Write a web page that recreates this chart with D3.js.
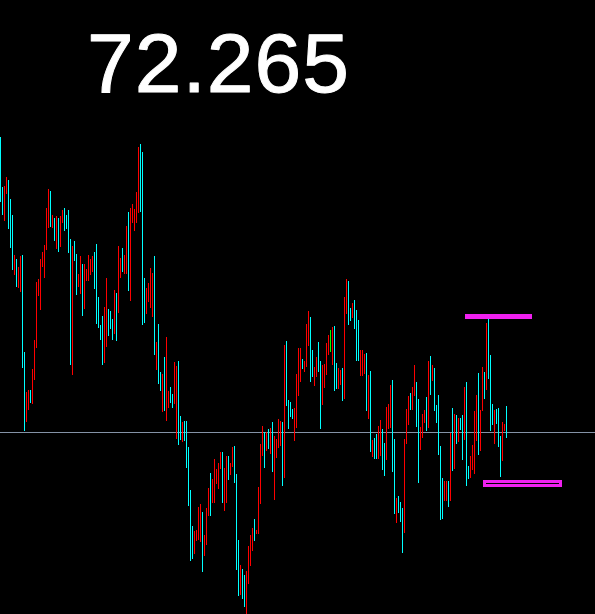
<!DOCTYPE html>
<html>
<head>
<meta charset="utf-8">
<script src="https://cdn.jsdelivr.net/npm/d3@7/dist/d3.min.js"></script>
<style>
  html, body { margin: 0; padding: 0; background: #000; }
  svg { display: block; }
</style>
</head>
<body>
<svg id="chart" width="595" height="614"></svg>
<script>
// ---- data ----
const lastPrice = 72.265;

const highs = [
72.560,72.510,72.511,72.520,72.517,72.498,72.482,72.442,72.438,72.430,
72.441,72.442,72.345,72.305,72.307,72.307,72.328,72.357,72.415,72.418,
72.438,72.445,72.452,72.489,72.508,72.506,72.482,72.479,72.481,72.479,
72.481,72.487,72.489,72.482,72.487,72.458,72.451,72.456,72.443,72.423,
72.441,72.433,72.433,72.428,72.442,72.438,72.441,72.445,72.453,72.400,
72.372,72.381,72.390,72.419,72.388,72.386,72.378,72.407,72.404,72.451,
72.439,72.449,72.442,72.471,72.485,72.489,72.493,72.488,72.505,72.550,
72.553,72.545,72.419,72.409,72.414,72.429,72.424,72.441,72.355,72.373,
72.325,72.323,72.340,72.360,72.306,72.310,72.303,72.335,72.331,72.336,
72.281,72.275,72.276,72.276,72.250,72.207,72.171,72.166,72.167,72.190,
72.193,72.185,72.162,72.189,72.209,72.224,72.218,72.238,72.228,72.234,
72.245,72.245,72.229,72.241,72.241,72.234,72.250,72.251,72.223,72.157,
72.132,72.128,72.122,72.126,72.151,72.162,72.169,72.178,72.167,72.210,
72.253,72.271,72.265,72.265,72.268,72.269,72.275,72.261,72.258,72.278,
72.276,72.275,72.352,72.356,72.297,72.295,72.288,72.289,72.323,72.349,
72.349,72.338,72.336,72.373,72.386,72.380,72.347,72.330,72.340,72.355,
72.336,72.332,72.333,72.354,72.362,72.367,72.370,72.371,72.334,72.329,
72.327,72.329,72.400,72.418,72.416,72.389,72.394,72.397,72.387,72.377,
72.347,72.347,72.343,72.344,72.322,72.326,72.257,72.259,72.263,72.271,
72.277,72.268,72.254,72.290,72.293,72.312,72.317,72.258,72.199,72.201,
72.195,72.189,72.258,72.288,72.301,72.304,72.310,72.332,72.315,72.298,
72.270,72.283,72.287,72.300,72.336,72.341,72.332,72.329,72.292,72.302,
72.251,72.219,72.216,72.216,72.216,72.264,72.289,72.283,72.282,72.279,
72.279,72.282,72.310,72.315,72.231,72.241,72.252,72.286,72.302,72.324,
72.287,72.330,72.325,72.374,72.378,72.342,72.293,72.287,72.288,72.289,
72.261,72.275,72.273,72.291
];

const lows = [
72.496,72.483,72.477,72.504,72.469,72.450,72.428,72.423,72.411,72.410,
72.406,72.330,72.267,72.276,72.288,72.295,72.294,72.318,72.350,72.402,
72.388,72.431,72.420,72.448,72.470,72.471,72.470,72.457,72.449,72.446,
72.451,72.475,72.467,72.469,72.445,72.333,72.323,72.437,72.403,72.411,
72.404,72.382,72.389,72.417,72.417,72.423,72.426,72.409,72.374,72.370,
72.358,72.333,72.335,72.351,72.362,72.369,72.358,72.364,72.357,72.385,
72.420,72.426,72.424,72.424,72.407,72.397,72.475,72.467,72.475,72.485,
72.486,72.373,72.375,72.384,72.396,72.390,72.381,72.343,72.328,72.314,
72.307,72.286,72.287,72.277,72.290,72.295,72.290,72.294,72.259,72.253,
72.258,72.256,72.257,72.230,72.192,72.137,72.139,72.144,72.157,72.158,
72.156,72.126,72.142,72.153,72.182,72.182,72.195,72.195,72.214,72.209,
72.229,72.195,72.187,72.195,72.218,72.223,72.231,72.215,72.128,72.102,
72.103,72.099,72.091,72.083,72.114,72.132,72.147,72.157,72.164,72.164,
72.194,72.242,72.230,72.247,72.249,72.244,72.226,72.198,72.240,72.250,
72.252,72.212,72.220,72.292,72.269,72.281,72.279,72.257,72.270,72.302,
72.316,72.329,72.326,72.331,72.352,72.316,72.321,72.312,72.321,72.326,
72.269,72.293,72.310,72.323,72.343,72.346,72.333,72.307,72.309,72.309,
72.313,72.297,72.299,72.384,72.373,72.377,72.380,72.369,72.337,72.337,
72.322,72.322,72.324,72.287,72.279,72.246,72.241,72.239,72.239,72.239,
72.242,72.228,72.222,72.238,72.269,72.270,72.226,72.184,72.175,72.185,
72.176,72.145,72.165,72.254,72.273,72.288,72.288,72.302,72.271,72.215,
72.248,72.260,72.275,72.267,72.270,72.303,72.317,72.287,72.275,72.243,
72.178,72.179,72.197,72.197,72.191,72.197,72.227,72.229,72.254,72.256,
72.268,72.238,72.258,72.212,72.219,72.220,72.228,72.224,72.257,72.243,
72.247,72.287,72.299,72.308,72.319,72.267,72.273,72.254,72.274,72.251,
72.221,72.237,72.267,72.260
];

// 1 = up bar, -1 = down bar, 0 = unchanged
const direction = [
1,1,-1,-1,1,1,1,-1,1,-1,
-1,1,1,-1,-1,1,-1,-1,-1,-1,
-1,-1,-1,-1,-1,1,-1,1,-1,1,
-1,-1,1,1,1,1,-1,1,1,-1,
-1,1,-1,-1,-1,-1,-1,1,1,1,
1,1,-1,-1,1,1,1,-1,1,-1,
-1,1,-1,-1,1,-1,-1,-1,-1,-1,
1,1,1,-1,-1,-1,-1,1,-1,1,
1,-1,1,-1,-1,1,1,-1,-1,1,
1,-1,1,1,1,1,1,-1,-1,-1,
-1,1,-1,-1,-1,1,-1,-1,-1,-1,
-1,1,-1,-1,1,-1,-1,1,1,1,
-1,1,1,-1,-1,-1,-1,1,-1,-1,
-1,-1,1,-1,1,-1,1,-1,-1,-1,
-1,1,-1,1,1,1,1,-1,-1,-1,
-1,1,-1,-1,-1,1,1,-1,-1,1,
1,-1,-1,-1,-1,0,-1,1,1,-1,
-1,1,-1,-1,1,1,-1,1,1,1,
-1,-1,-1,1,-1,1,-1,1,1,-1,
-1,1,1,-1,-1,-1,1,1,-1,1,
1,1,-1,-1,-1,1,-1,-1,1,1,
-1,-1,-1,1,-1,1,-1,1,1,1,
1,1,-1,-1,1,-1,1,-1,1,-1,
1,1,-1,1,1,-1,-1,-1,-1,1,
-1,-1,1,-1,1,1,1,-1,1,1,
1,-1,-1,1
];

// horizontal marker levels (price, start bar, end bar)
const levelPrices = [72.381, 72.214];
const levelStart = [232.5, 241.5];
const levelEnd = [266, 281];

// ---- chart ----
const W = 595, H = 614;
const svg = d3.select("#chart");
svg.append("rect").attr("width", W).attr("height", H).attr("fill", "#000");

const x = d3.scaleLinear().domain([0, 297.5]).range([0, W]);
const y = d3.scaleLinear().domain([72.083, 72.697]).range([H, 0]);
const color = d3.scaleOrdinal().domain([1, -1, 0]).range(["#00ffff", "#ff0000", "#00ff00"]);

const bars = highs.map((h, i) => ({ i, h, l: lows[i], d: direction[i] }));

// current price line
svg.append("line")
  .attr("x1", 0).attr("x2", W)
  .attr("y1", Math.round(y(lastPrice)) + 0.5)
  .attr("y2", Math.round(y(lastPrice)) + 0.5)
  .attr("stroke", "#8492a6").attr("stroke-width", 1)
  .attr("shape-rendering", "crispEdges");

// bars
svg.append("g").selectAll("rect")
  .data(bars)
  .join("rect")
  .attr("x", d => Math.round(x(d.i)))
  .attr("width", 1)
  .attr("y", d => Math.round(y(d.h)))
  .attr("height", d => Math.round(y(d.l)) - Math.round(y(d.h)) + 1)
  .attr("fill", d => color(d.d))
  .attr("shape-rendering", "crispEdges");

// upper level marker
const u = Math.round(y(levelPrices[0]));
svg.append("rect")
  .attr("x", Math.round(x(levelStart[0])))
  .attr("y", u - 2)
  .attr("width", Math.round(x(levelEnd[0])) - Math.round(x(levelStart[0])))
  .attr("height", 5)
  .attr("fill", "#f020f0")
  .attr("shape-rendering", "crispEdges");

// lower level marker (double line)
const lo = Math.round(y(levelPrices[1]));
const lx0 = Math.round(x(levelStart[1])), lx1 = Math.round(x(levelEnd[1]));
svg.append("rect")
  .attr("x", lx0).attr("y", lo - 3)
  .attr("width", lx1 - lx0).attr("height", 7)
  .attr("fill", "#f020f0")
  .attr("shape-rendering", "crispEdges");
svg.append("rect")
  .attr("x", lx0 + 3).attr("y", lo)
  .attr("width", lx1 - lx0 - 6).attr("height", 1)
  .attr("fill", "#000")
  .attr("shape-rendering", "crispEdges");

// price title
svg.append("text")
  .attr("x", 87).attr("y", 92)
  .attr("fill", "#ffffff")
  .attr("stroke", "#ffffff")
  .attr("stroke-width", 1)
  .attr("stroke-linejoin", "round")
  .attr("stroke-linecap", "round")
  .attr("font-family", "'Liberation Sans', Arial, sans-serif")
  .attr("font-size", 84)
  .attr("letter-spacing", 1)
  .text(d3.format(".3f")(lastPrice));
</script>
</body>
</html>
